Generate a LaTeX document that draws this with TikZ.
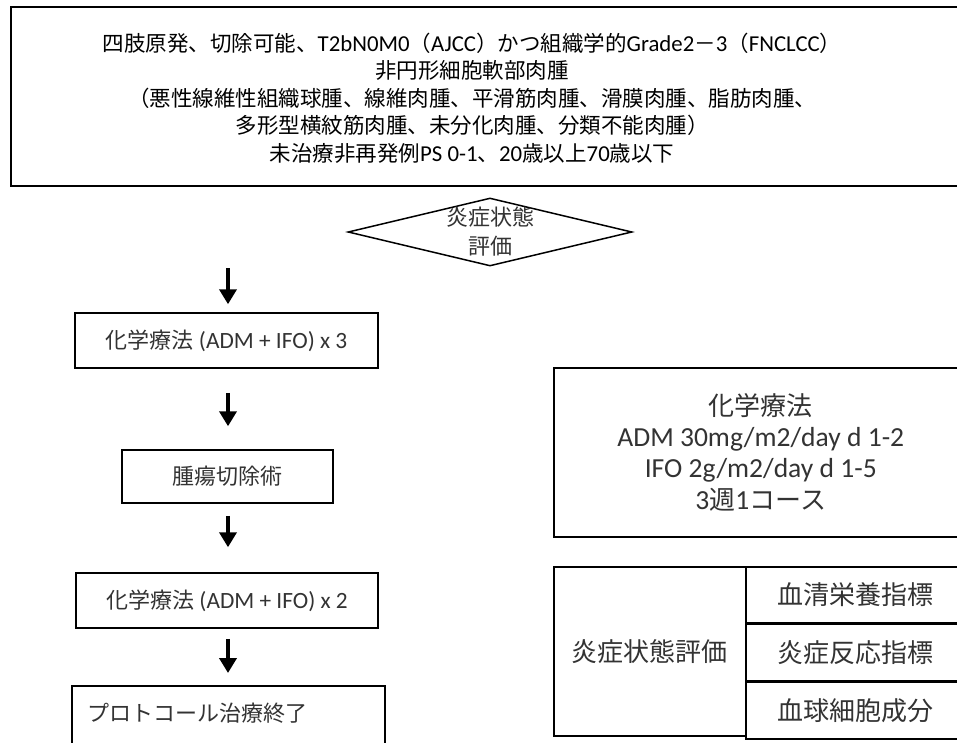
\documentclass[tikz,border=0pt]{standalone}
\usepackage{fontspec}
\setmainfont{Noto Sans CJK JP}
\newfontfamily\lat[Scale=1.06]{Carlito}
\usetikzlibrary{shapes.geometric,arrows.meta}
\definecolor{txt}{HTML}{333333}
\begin{document}
\begin{tikzpicture}[x=1pt,y=-1pt,
  box/.style={draw=black,line width=1.5pt,rectangle,inner sep=0pt,text=txt},
  lbl/.style={text=txt,inner sep=0pt,align=center},
  arr/.style={line width=4pt,-{Triangle[width=17pt,length=15pt]}},
  f22/.style={font=\fontsize{22}{27}\selectfont},
  f26/.style={font=\fontsize{26}{31.3}\selectfont}]
\path[use as bounding box] (0,0) rectangle (957,742);
\clip (0,0) rectangle (957,742);
\fill[white] (0,0) rectangle (957,742);

% top box
\node[box,line width=2pt,minimum width=1000pt,minimum height=179pt,anchor=north west] (top) at (10,6) {};
\node[lbl,text=black,font=\fontsize{21.5}{27.5}\selectfont] (toptext) at (472,98)
 {四肢原発、切除可能、{\lat T2bN0M0}（{\lat AJCC}）かつ組織学的{\lat Grade2}－{\lat 3}（{\lat FNCLCC}）\\
  非円形細胞軟部肉腫\\
  （悪性線維性組織球腫、線維肉腫、平滑筋肉腫、滑膜肉腫、脂肪肉腫、\\
  多形型横紋筋肉腫、未分化肉腫、分類不能肉腫）\\
  未治療非再発例{\lat PS 0-1}、{\lat 20}歳以上{\lat 70}歳以下};

% diamond
\node[draw,diamond,line width=1.5pt,minimum width=284pt,minimum height=68pt,inner sep=0pt] (eval) at (490,232) {};
\node[lbl,font=\fontsize{22}{29}\selectfont] (evaltext) at (eval.center) {炎症状態\\評価};

% left flow
\coordinate (a1) at (228,268);
\node[box,f22,minimum width=303pt,minimum height=55pt] (b1) at (226.5,340.5) {化学療法{\lat\ (ADM + IFO) x 3}};
\node[box,f22,minimum width=211pt,minimum height=53pt] (b2) at (227.5,476.5) {腫瘍切除術};
\node[box,f22,minimum width=302pt,minimum height=55pt] (b3) at (227,600.5) {化学療法{\lat\ (ADM + IFO) x 2}};
\node[box,minimum width=313pt,minimum height=100pt,anchor=north west] (b4) at (71,685) {};
\node[lbl,f22,anchor=west] (b4text) at (87,713) {プロトコール治療終了};

\draw[arr,shorten >=8pt] (a1) -- (a1 |- b1.north);
\draw[arr,shorten <=24pt,shorten >=23pt] (b1.south -| a1) -- (b2.north -| a1);
\draw[arr,shorten <=12pt,shorten >=25pt] (b2.south -| a1) -- (b3.north -| a1);
\draw[arr,shorten <=10pt,shorten >=12pt] (b3.south -| a1) -- (b4.north -| a1);

% chemo box
\node[box,f26,align=center,minimum width=414pt,minimum height=169pt,anchor=north west] (chemo) at (553,367)
 {化学療法\\{\lat ADM 30mg/m2/day d 1-2}\\{\lat IFO 2g/m2/day d 1-5}\\{\lat 3}週{\lat 1}コース};

% table
\node[box,f26,minimum width=192pt,minimum height=169pt,anchor=north west] (evl) at (553,566) {炎症状態評価};
\node[box,f26,minimum width=220pt,minimum height=56.33pt,anchor=north west] (r1) at (745,566) {血清栄養指標};
\node[box,f26,minimum width=220pt,minimum height=56.33pt,anchor=north west] (r2) at (r1.south west) {炎症反応指標};
\node[box,f26,minimum width=220pt,minimum height=56.33pt,anchor=north west] (r3) at (r2.south west) {血球細胞成分};
\end{tikzpicture}
\end{document}
